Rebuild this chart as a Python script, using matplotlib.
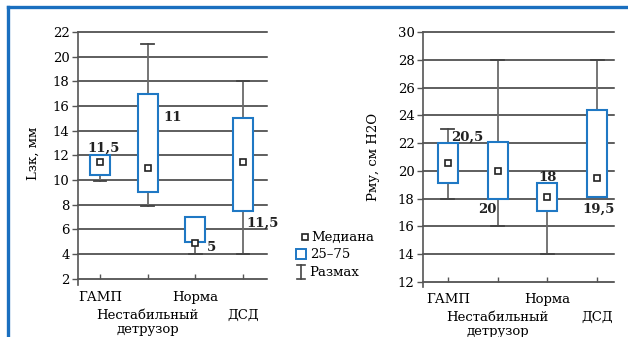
import numpy as np
import matplotlib
matplotlib.use('Agg')
import matplotlib.pyplot as plt
from matplotlib.lines import Line2D
from matplotlib.patches import Rectangle
import matplotlib.transforms as mtransforms

plt.rcParams['font.family'] = ['DejaVu Serif', 'DejaVu Sans']

# categories
groups = ['ГАМП', 'Нестабильный\nдетрузор', 'Норма', 'ДСД']

# Lзк, мм
lz_q1 = [10.4, 9.0, 5.0, 7.5]
lz_q3 = [12.0, 17.0, 7.0, 15.0]
lz_lo = [9.9, 7.9, 4.0, 4.0]
lz_hi = [12.0, 21.0, 7.0, 18.0]
lz_med = [11.5, 11.0, 4.9, 11.5]
lz_text = ['11,5', '11', '5', '11,5']
lz_yticks = [2, 4, 6, 8, 10, 12, 14, 16, 18, 20, 22]

# Рму, см H2O
pm_q1 = [19.1, 18.0, 17.1, 18.1]
pm_q3 = [22.0, 22.1, 19.1, 24.4]
pm_lo = [18.0, 16.0, 14.0, 18.1]
pm_hi = [23.0, 28.0, 19.1, 28.0]
pm_med = [20.6, 20.0, 18.1, 19.5]
pm_text = ['20,5', '20', '18', '19,5']
pm_yticks = [12, 14, 16, 18, 20, 22, 24, 26, 28, 30]

BLUE = '#1f78c4'
GRID = '#333333'
FS = 9.5

W, H = 628, 337
fig = plt.figure(figsize=(W / 100, H / 100), dpi=100)


def fx(x):
    return x / W


def fy(y):
    return 1 - y / H


def panel(rect, q1, q3, lo, hi, med, yticks, ylim, xlim, bw, texts, tpos, ylabel, lab_xy):
    ax = fig.add_axes(rect)
    pos = np.arange(len(q1))
    stats = [dict(med=m, q1=a, q3=b, whislo=l, whishi=h, fliers=[])
             for a, b, l, h, m in zip(q1, q3, lo, hi, med)]
    res = ax.bxp(stats, positions=pos, widths=bw, capwidths=0.26, showfliers=False,
                 patch_artist=True,
                 boxprops=dict(facecolor='white', edgecolor=BLUE, linewidth=1.5, zorder=3),
                 whiskerprops=dict(color='#6a6a6a', linewidth=1.3, zorder=2),
                 capprops=dict(color='#444444', linewidth=1.3, zorder=2),
                 medianprops=dict(linewidth=0))
    # drop caps that sit on the box edge
    for i in range(len(q1)):
        if lo[i] >= q1[i]:
            res['caps'][2 * i].set_visible(False)
        if hi[i] <= q3[i]:
            res['caps'][2 * i + 1].set_visible(False)
    ax.plot(pos, med, 's', ms=5, mfc='white', mec='#222222', mew=1.2, zorder=4)

    for y in yticks:
        ax.axhline(y, color=GRID, lw=1.1, zorder=1, clip_on=False)
    ax.set_ylim(*ylim)
    ax.set_xlim(*xlim)
    ax.set_yticks(yticks)
    ax.tick_params(axis='y', direction='out', length=4, width=1, color='#555555',
                   labelsize=FS, pad=2)

    # category ticks pointing up from the lowest gridline
    tl = (ylim[1] - ylim[0]) * 0.02
    ax.vlines(pos, yticks[0], yticks[0] + tl, color='#555555', lw=1, zorder=2)
    ax.set_xticks(pos, groups)
    ax.tick_params(axis='x', length=0, pad=4, labelsize=FS)
    shift = mtransforms.ScaledTranslation(0, -18 / 100, fig.dpi_scale_trans)
    for i, lab in enumerate(ax.get_xticklabels()):
        lab.set_linespacing(1.15)
        if i % 2 == 1:
            lab.set_transform(lab.get_transform() + shift)

    for s in ['top', 'right', 'bottom']:
        ax.spines[s].set_visible(False)
    ax.spines['left'].set_color('#555555')
    ax.spines['left'].set_linewidth(1.2)

    for i, t in enumerate(texts):
        dx, y, ha = tpos[i]
        ax.text(pos[i] + dx, y, t, ha=ha, va='center', fontsize=FS,
                fontweight='bold', color='#222222', zorder=5)

    ax.set_ylabel(ylabel, fontsize=FS)
    ax.yaxis.set_label_coords(*lab_xy)
    return ax


panel([fx(78), fy(285), fx(189), 253 / H], lz_q1, lz_q3, lz_lo, lz_hi, lz_med,
      lz_yticks, (1.5, 22), (-0.46, 3.5), 0.42, lz_text,
      [(0.07, 12.6, 'center'), (0.32, 15.1, 'left'), (0.25, 4.55, 'left'), (0.07, 6.5, 'left')],
      'Lзк, мм', (-0.20, 0.52))

panel([fx(423), fy(287), fx(191), 255 / H], pm_q1, pm_q3, pm_lo, pm_hi, pm_med,
      pm_yticks, (11.64, 30), (-0.5, 3.34), 0.40, pm_text,
      [(0.07, 22.45, 'left'), (-0.2, 17.2, 'center'), (0.0, 19.5, 'center'), (0.02, 17.2, 'center')],
      'Рму, см H2O', (-0.225, 0.51))

# legend
fig.add_artist(Line2D([fx(305)], [fy(237)], marker='s', ms=4.5, mfc='white',
                      mec='#222222', mew=1.2, transform=fig.transFigure))
fig.text(fx(311), fy(237), 'Медиана', fontsize=FS, va='center', ha='left')
fig.add_artist(Rectangle((fx(295.5), fy(259)), fx(10), 10 / H, facecolor='white',
                         edgecolor=BLUE, lw=1.4, transform=fig.transFigure))
fig.text(fx(310), fy(254), '25–75', fontsize=FS, va='center', ha='left')
fig.add_artist(Line2D([fx(300.5)] * 2, [fy(265), fy(279)], color='#444444', lw=1.2,
                      transform=fig.transFigure))
for yy in (265, 279):
    fig.add_artist(Line2D([fx(296.5), fx(304.5)], [fy(yy)] * 2, color='#444444', lw=1.2,
                          transform=fig.transFigure))
fig.text(fx(309), fy(272), 'Размах', fontsize=FS, va='center', ha='left')

# blue frame
fig.add_artist(Line2D([fx(8), 1], [fy(7)] * 2, color='#1a6fbf', lw=2.4,
                      transform=fig.transFigure))
fig.add_artist(Line2D([fx(8)] * 2, [fy(7), 0], color='#1a6fbf', lw=2.4,
                      transform=fig.transFigure))

fig.savefig('out.png', dpi=100)
